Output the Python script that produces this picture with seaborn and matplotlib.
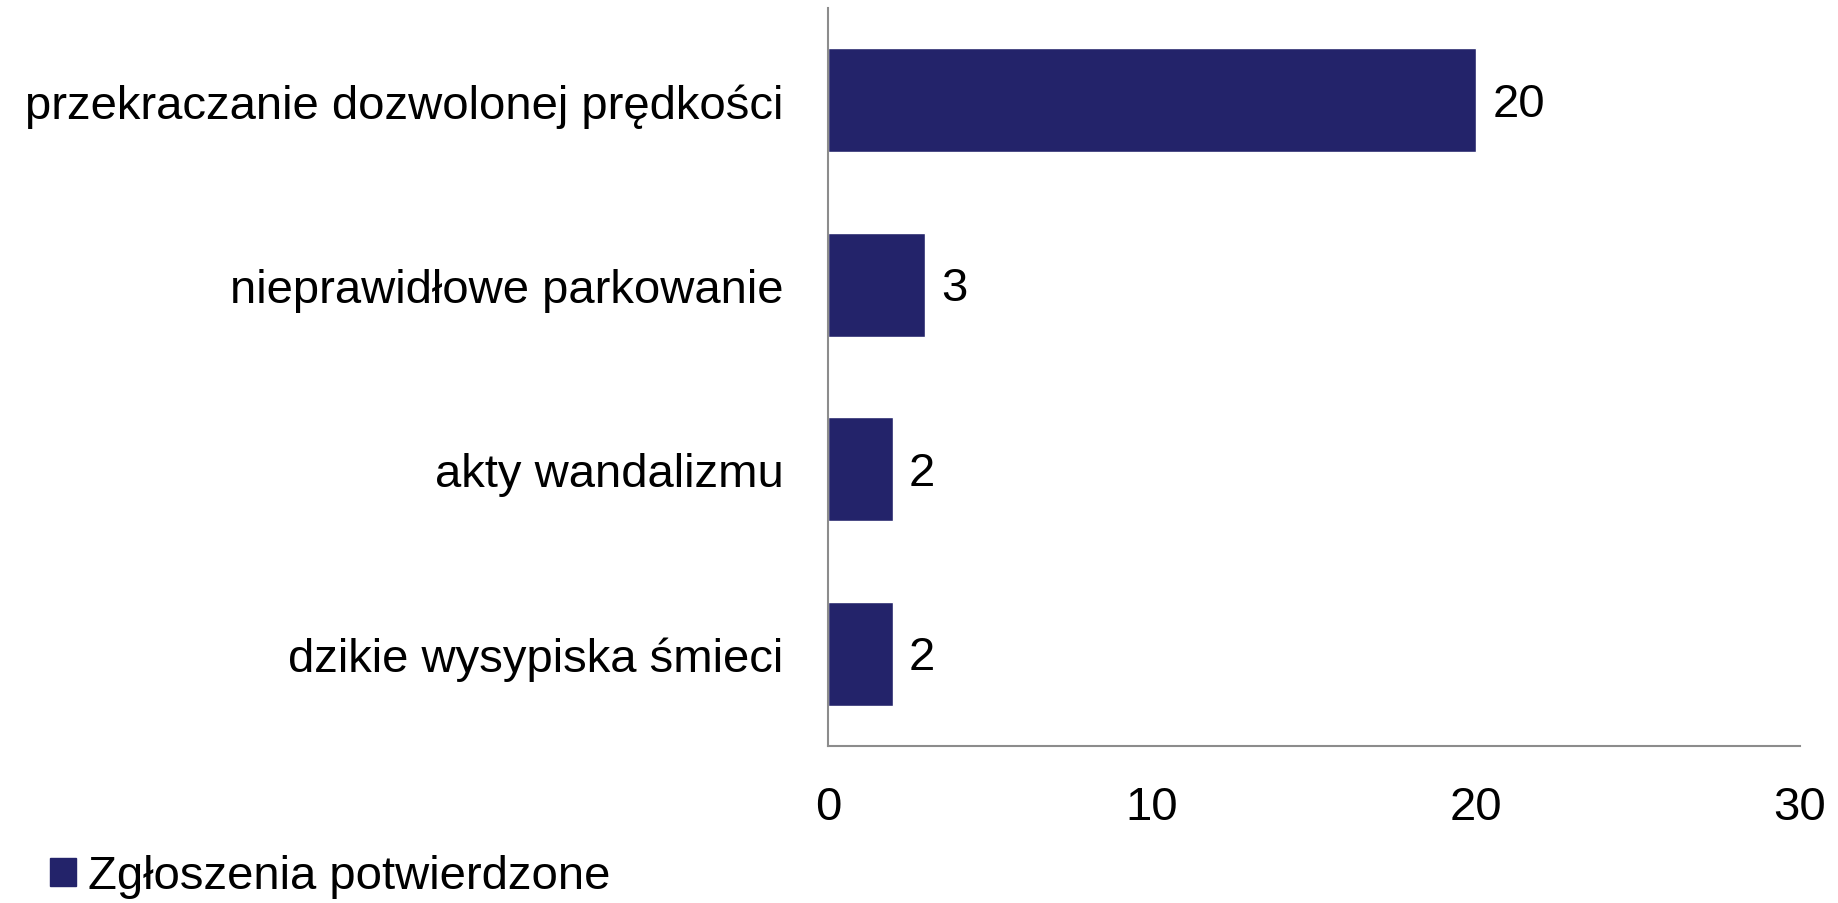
import pandas as pd
import matplotlib.pyplot as plt
import seaborn as sns

categories = ['przekraczanie dozwolonej prędkości', 'nieprawidłowe parkowanie',
              'akty wandalizmu', 'dzikie wysypiska śmieci']
values = [20, 3, 2, 2]
series_name = 'Zgłoszenia potwierdzone'
xticks = [0, 10, 20, 30]

df = pd.DataFrame({'kategoria': categories, 'liczba': values})

sns.set_style('white')
plt.rcParams['font.family'] = ['Liberation Sans', 'DejaVu Sans']
plt.rcParams['text.color'] = 'black'
plt.rcParams['xtick.color'] = 'black'
plt.rcParams['ytick.color'] = 'black'

bar_color = '#23236A'
fs = 34
fig = plt.figure(figsize=(18.38, 9.04), dpi=100)
ax = fig.add_axes([0.4505, 0.1737, 0.5288, 0.8163])

sns.barplot(data=df, y='kategoria', x='liczba', color=bar_color, width=0.565,
            saturation=1, ax=ax, orient='h')

ax.set_xlim(0, 30)
ax.set_ylim(3.5, -0.5)
ax.set_xticks(xticks)
ax.set_xlabel('')
ax.set_ylabel('')
ax.tick_params(axis='x', labelsize=fs, pad=28, length=0)
ax.tick_params(axis='y', labelsize=fs, pad=32, length=0)

for s in ['top', 'right']:
    ax.spines[s].set_visible(False)
for s in ['left', 'bottom']:
    ax.spines[s].set_color('#8c8c8c')
    ax.spines[s].set_linewidth(1.5)

for i, v in enumerate(values):
    ax.text(v + 0.5, i + 0.02, str(v), va='center', ha='left', fontsize=fs)

handle = plt.Rectangle((0, 0), 1, 1, color=bar_color)
fig.legend([handle], [series_name], loc='lower left', bbox_to_anchor=(0.004, -0.042),
           frameon=False, fontsize=fs, handlelength=0.55, handleheight=0.55,
           handletextpad=0.25)

fig.savefig('out.png', dpi=100)
